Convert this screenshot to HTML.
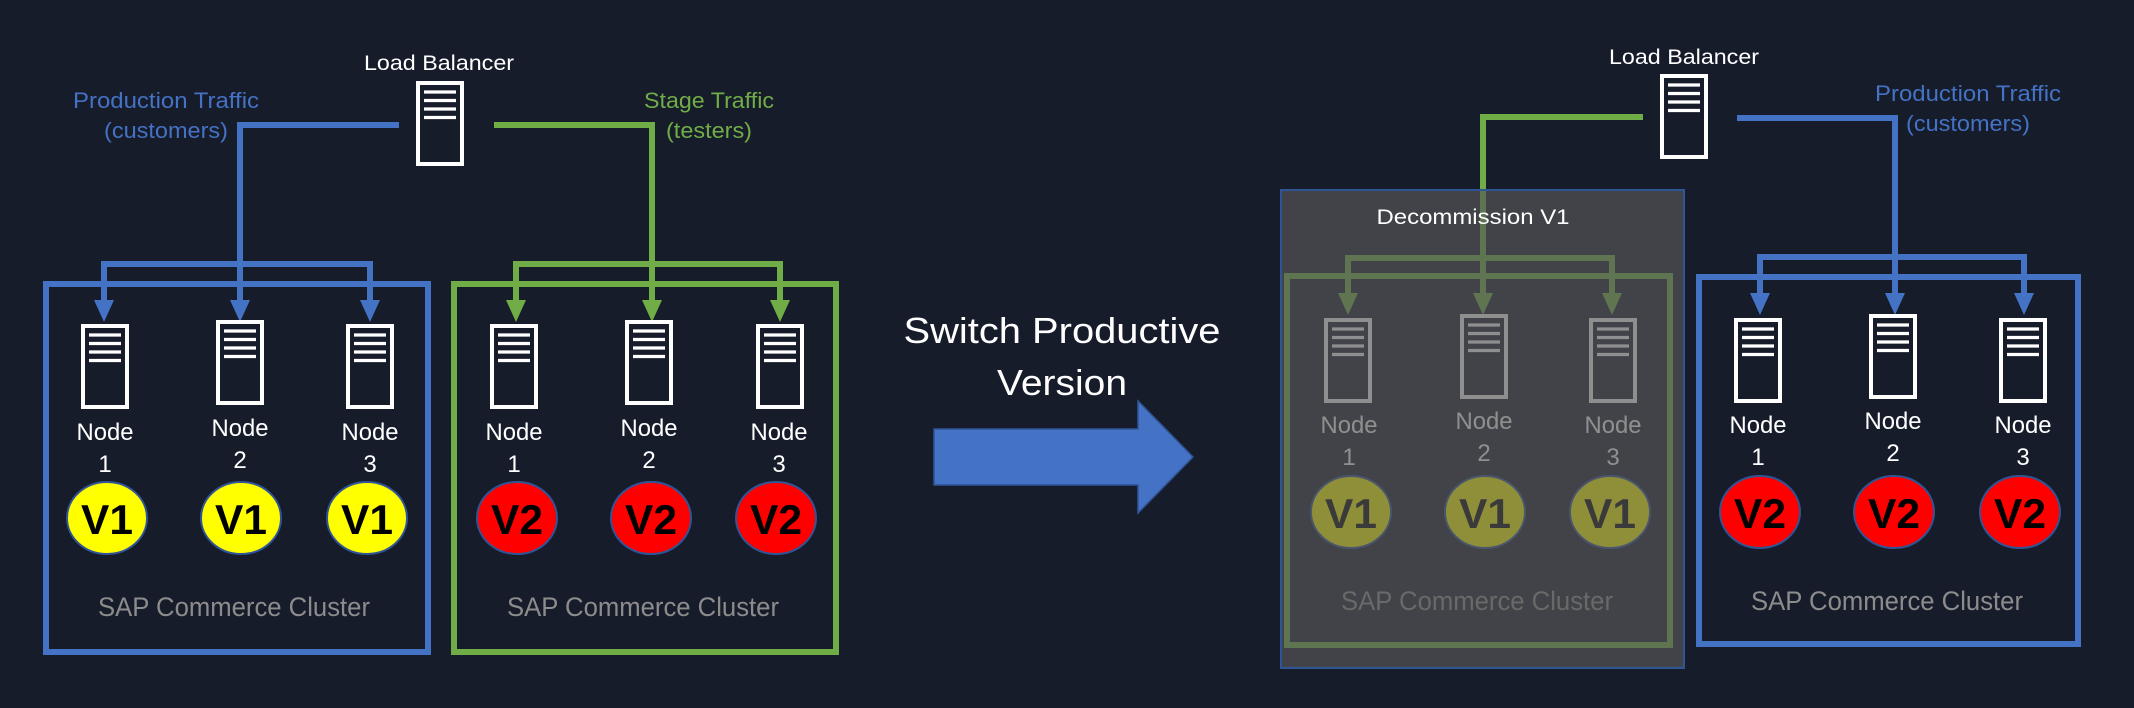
<!DOCTYPE html>
<html><head><meta charset="utf-8"><style>
html,body{margin:0;padding:0;background:#171c2b;}
svg{display:block;}
text{font-family:"Liberation Sans",sans-serif;}
</style></head><body>
<svg width="2134" height="708" viewBox="0 0 2134 708" xmlns="http://www.w3.org/2000/svg">
<defs>
<g id="srv">
<rect x="2" y="2" width="44" height="81" fill="none" stroke="currentColor" stroke-width="4"/>
<g stroke="currentColor" stroke-width="3.2"><line x1="8" y1="11" x2="40" y2="11"/><line x1="8" y1="19.5" x2="40" y2="19.5"/><line x1="8" y1="28" x2="40" y2="28"/><line x1="8" y1="36.5" x2="40" y2="36.5"/></g>
</g>
</defs>
<rect width="2134" height="708" fill="#171c2b"/>

<!-- ============ LEFT ============ -->
<text x="439" y="70" fill="#fff" font-size="21" text-anchor="middle" textLength="150" lengthAdjust="spacingAndGlyphs">Load Balancer</text>
<use href="#srv" x="416" y="81" color="#fff"/>
<text x="166" y="108" fill="#4472c4" font-size="22" text-anchor="middle" textLength="186" lengthAdjust="spacingAndGlyphs">Production Traffic</text>
<text x="166" y="138" fill="#4472c4" font-size="22" text-anchor="middle" textLength="124" lengthAdjust="spacingAndGlyphs">(customers)</text>
<text x="709" y="108" fill="#70ad47" font-size="22" text-anchor="middle" textLength="130" lengthAdjust="spacingAndGlyphs">Stage Traffic</text>
<text x="709" y="138" fill="#70ad47" font-size="22" text-anchor="middle" textLength="86" lengthAdjust="spacingAndGlyphs">(testers)</text>

<!-- blue box -->
<rect x="46" y="284" width="382" height="368" fill="none" stroke="#4472c4" stroke-width="6"/>
<g fill="none" stroke="#4472c4" stroke-width="6">
<polyline points="399,125 240,125 240,301"/>
<polyline points="104,301 104,264 370,264 370,301"/>
</g>
<g fill="#4472c4"><polygon points="94,300 114,300 104,322"/><polygon points="230,300 250,300 240,322"/><polygon points="360,300 380,300 370,322"/></g>
<!-- green box -->
<rect x="454" y="284" width="382" height="368" fill="none" stroke="#70ad47" stroke-width="6"/>
<g fill="none" stroke="#70ad47" stroke-width="6">
<polyline points="494,125 652,125 652,301"/>
<polyline points="516,301 516,264 780,264 780,301"/>
</g>
<g fill="#70ad47"><polygon points="506,300 526,300 516,322"/><polygon points="642,300 662,300 652,322"/><polygon points="770,300 790,300 780,322"/></g>

<g color="#fff">
<use href="#srv" x="81" y="324"/><use href="#srv" x="216" y="320"/><use href="#srv" x="346" y="324"/>
<use href="#srv" x="490" y="324"/><use href="#srv" x="625" y="320"/><use href="#srv" x="756" y="324"/>
</g>
<g fill="#fff" font-size="24" text-anchor="middle">
<text x="105" y="440" textLength="57" lengthAdjust="spacingAndGlyphs">Node</text><text x="105" y="472">1</text>
<text x="240" y="436" textLength="57" lengthAdjust="spacingAndGlyphs">Node</text><text x="240" y="468">2</text>
<text x="370" y="440" textLength="57" lengthAdjust="spacingAndGlyphs">Node</text><text x="370" y="472">3</text>
<text x="514" y="440" textLength="57" lengthAdjust="spacingAndGlyphs">Node</text><text x="514" y="472">1</text>
<text x="649" y="436" textLength="57" lengthAdjust="spacingAndGlyphs">Node</text><text x="649" y="468">2</text>
<text x="779" y="440" textLength="57" lengthAdjust="spacingAndGlyphs">Node</text><text x="779" y="472">3</text>
</g>
<g stroke="#2f5597" stroke-width="2">
<ellipse cx="107" cy="518" rx="40" ry="36" fill="#ffff00"/><ellipse cx="241" cy="518" rx="40" ry="36" fill="#ffff00"/><ellipse cx="367" cy="518" rx="40" ry="36" fill="#ffff00"/>
<ellipse cx="517" cy="518" rx="40" ry="36" fill="#ff0000"/><ellipse cx="651" cy="518" rx="40" ry="36" fill="#ff0000"/><ellipse cx="776" cy="518" rx="40" ry="36" fill="#ff0000"/>
</g>
<g fill="#000" font-size="42" font-weight="bold" text-anchor="middle">
<text x="107" y="534" textLength="52" lengthAdjust="spacingAndGlyphs">V1</text><text x="241" y="534" textLength="52" lengthAdjust="spacingAndGlyphs">V1</text><text x="367" y="534" textLength="52" lengthAdjust="spacingAndGlyphs">V1</text>
<text x="517" y="534" textLength="52" lengthAdjust="spacingAndGlyphs">V2</text><text x="651" y="534" textLength="52" lengthAdjust="spacingAndGlyphs">V2</text><text x="776" y="534" textLength="52" lengthAdjust="spacingAndGlyphs">V2</text>
</g>
<g fill="#8c8c8c" font-size="27" text-anchor="middle">
<text x="234" y="616" textLength="272" lengthAdjust="spacingAndGlyphs">SAP Commerce Cluster</text>
<text x="643" y="616" textLength="272" lengthAdjust="spacingAndGlyphs">SAP Commerce Cluster</text>
</g>

<!-- ============ MIDDLE ============ -->
<text x="1062" y="343" fill="#fff" font-size="36" text-anchor="middle" textLength="317" lengthAdjust="spacingAndGlyphs">Switch Productive</text>
<text x="1062" y="395" fill="#fff" font-size="36" text-anchor="middle" textLength="130" lengthAdjust="spacingAndGlyphs">Version</text>
<polygon points="934,429 1138,429 1138,401 1193,457 1138,513 1138,485 934,485" fill="#4472c4" stroke="#2f5597" stroke-width="1.5"/>

<!-- ============ RIGHT ============ -->
<text x="1684" y="64" fill="#fff" font-size="21" text-anchor="middle" textLength="150" lengthAdjust="spacingAndGlyphs">Load Balancer</text>
<use href="#srv" x="1660" y="74" color="#fff"/>
<text x="1968" y="101" fill="#4472c4" font-size="22" text-anchor="middle" textLength="186" lengthAdjust="spacingAndGlyphs">Production Traffic</text>
<text x="1968" y="131" fill="#4472c4" font-size="22" text-anchor="middle" textLength="124" lengthAdjust="spacingAndGlyphs">(customers)</text>

<!-- green (to be dimmed) -->
<g fill="none" stroke="#70ad47" stroke-width="6">
<polyline points="1643,117 1483,117 1483,294"/>
<polyline points="1348,294 1348,258 1612,258 1612,294"/>
</g>
<g fill="#70ad47"><polygon points="1338,293 1358,293 1348,315"/><polygon points="1473,293 1493,293 1483,315"/><polygon points="1602,293 1622,293 1612,315"/></g>
<rect x="1287" y="276" width="383" height="369" fill="none" stroke="#70ad47" stroke-width="6"/>
<g color="#fff">
<use href="#srv" x="1324" y="318"/><use href="#srv" x="1460" y="314"/><use href="#srv" x="1589" y="318"/>
</g>
<g fill="#fff" font-size="24" text-anchor="middle">
<text x="1349" y="433" textLength="57" lengthAdjust="spacingAndGlyphs">Node</text><text x="1349" y="465">1</text>
<text x="1484" y="429" textLength="57" lengthAdjust="spacingAndGlyphs">Node</text><text x="1484" y="461">2</text>
<text x="1613" y="433" textLength="57" lengthAdjust="spacingAndGlyphs">Node</text><text x="1613" y="465">3</text>
</g>
<g stroke="#2f5597" stroke-width="2" fill="#ffff00">
<ellipse cx="1351" cy="512" rx="40" ry="36"/><ellipse cx="1485" cy="512" rx="40" ry="36"/><ellipse cx="1610" cy="512" rx="40" ry="36"/>
</g>
<g fill="#000" font-size="42" font-weight="bold" text-anchor="middle">
<text x="1351" y="528" textLength="52" lengthAdjust="spacingAndGlyphs">V1</text><text x="1485" y="528" textLength="52" lengthAdjust="spacingAndGlyphs">V1</text><text x="1610" y="528" textLength="52" lengthAdjust="spacingAndGlyphs">V1</text>
</g>
<text x="1477" y="610" fill="#8c8c8c" font-size="27" text-anchor="middle" textLength="272" lengthAdjust="spacingAndGlyphs">SAP Commerce Cluster</text>
<!-- overlay -->
<rect x="1281" y="190" width="403" height="478" fill="rgb(87,87,87)" fill-opacity="0.667" stroke="#2f5597" stroke-width="2"/>
<text x="1473" y="224" fill="#fff" font-size="21" text-anchor="middle" textLength="193" lengthAdjust="spacingAndGlyphs">Decommission V1</text>

<!-- blue right -->
<g fill="none" stroke="#4472c4" stroke-width="6">
<polyline points="1737,118 1895,118 1895,294"/>
<polyline points="1760,294 1760,257 2024,257 2024,294"/>
</g>
<g fill="#4472c4"><polygon points="1750,293 1770,293 1760,315"/><polygon points="1885,293 1905,293 1895,315"/><polygon points="2014,293 2034,293 2024,315"/></g>
<rect x="1699" y="277" width="379" height="367" fill="none" stroke="#4472c4" stroke-width="6"/>
<g color="#fff">
<use href="#srv" x="1734" y="318"/><use href="#srv" x="1869" y="314"/><use href="#srv" x="1999" y="318"/>
</g>
<g fill="#fff" font-size="24" text-anchor="middle">
<text x="1758" y="433" textLength="57" lengthAdjust="spacingAndGlyphs">Node</text><text x="1758" y="465">1</text>
<text x="1893" y="429" textLength="57" lengthAdjust="spacingAndGlyphs">Node</text><text x="1893" y="461">2</text>
<text x="2023" y="433" textLength="57" lengthAdjust="spacingAndGlyphs">Node</text><text x="2023" y="465">3</text>
</g>
<g stroke="#2f5597" stroke-width="2" fill="#ff0000">
<ellipse cx="1760" cy="512" rx="40" ry="36"/><ellipse cx="1894" cy="512" rx="40" ry="36"/><ellipse cx="2020" cy="512" rx="40" ry="36"/>
</g>
<g fill="#000" font-size="42" font-weight="bold" text-anchor="middle">
<text x="1760" y="528" textLength="52" lengthAdjust="spacingAndGlyphs">V2</text><text x="1894" y="528" textLength="52" lengthAdjust="spacingAndGlyphs">V2</text><text x="2020" y="528" textLength="52" lengthAdjust="spacingAndGlyphs">V2</text>
</g>
<text x="1887" y="610" fill="#8c8c8c" font-size="27" text-anchor="middle" textLength="272" lengthAdjust="spacingAndGlyphs">SAP Commerce Cluster</text>
</svg>
</body></html>
